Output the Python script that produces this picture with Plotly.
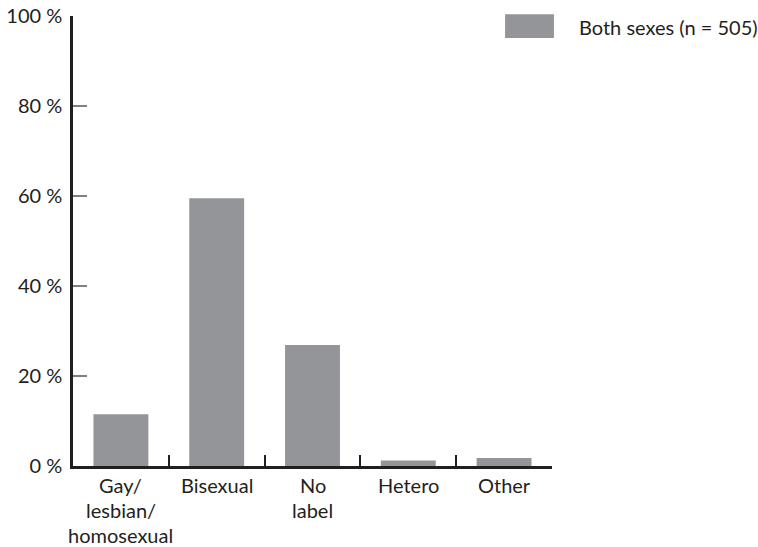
import plotly.graph_objects as go

categories = ["Gay/<br>lesbian/<br>homosexual", "Bisexual", "No<br>label", "Hetero", "Other"]
values = [11.5, 59.5, 26.9, 1.2, 1.8]
series_name = "Both sexes (n = 505)"
y_ticks = [0, 20, 40, 60, 80, 100]
y_tick_labels = ["0 %", "20 %", "40 %", "60 %", "80 %", "100 %"]

BAR = "#939598"
TXT = "#231f20"
FONT = "Lato"
FS = 20

fig = go.Figure()
fig.add_trace(go.Bar(
    x=list(range(len(categories))), y=values, name=series_name,
    marker=dict(color=BAR, line=dict(width=0)),
    width=0.573, showlegend=False,
))

fig.update_layout(
    width=758, height=547,
    margin=dict(l=73, r=206, t=16, b=81),
    paper_bgcolor="white", plot_bgcolor="white",
    font=dict(family=FONT, size=FS, color=TXT),
)
fig.update_xaxes(
    range=[-0.5, len(categories) - 0.5],
    tickmode="array",
    tickvals=[i + 0.5 for i in range(len(categories))],
    ticktext=[""] * len(categories),
    ticks="inside", ticklen=11, tickwidth=1.5, tickcolor=TXT,
    showline=True, linecolor=TXT, linewidth=3,
    showgrid=False, zeroline=False, automargin=False,
)
# category labels, one annotation per line to match the wide line spacing
for i, c in enumerate(categories):
    for k, line in enumerate(c.split("<br>")):
        fig.add_annotation(
            x=i, y=0, xref="x", yref="y", text=line, showarrow=False,
            yanchor="top", xanchor="center", yshift=-5 - 25 * k,
            font=dict(family=FONT, size=FS, color=TXT),
        )
fig.update_yaxes(
    range=[0, 100],
    tickmode="array", tickvals=y_ticks, ticktext=y_tick_labels,
    ticks="inside", ticklen=14, tickwidth=1.5, tickcolor="#808080",
    showline=True, linecolor=TXT, linewidth=2.5,
    showgrid=False, zeroline=False, automargin=False,
    ticklabelstandoff=4,
)
# legend key
fig.add_shape(type="rect", xref="paper", yref="paper",
              x0=0.902, x1=1.004, y0=0.951, y1=1.004,
              fillcolor=BAR, line=dict(width=0))
fig.add_annotation(xref="paper", yref="paper", x=1.053, y=0.975,
                   text=series_name, showarrow=False,
                   xanchor="left", yanchor="middle",
                   font=dict(family=FONT, size=FS, color=TXT))

fig.write_html("out.html", config={"displayModeBar": False},
               post_script="document.body.style.margin='0';document.body.style.padding='0';")
